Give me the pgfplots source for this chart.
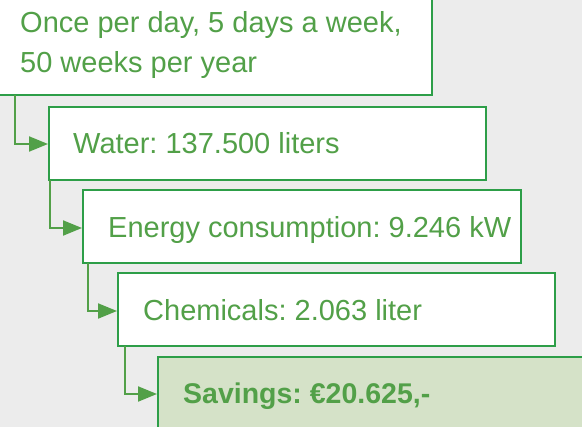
\documentclass[border=0pt]{standalone}
\usepackage{pgfplots}
\pgfplotsset{compat=1.18}
\usepackage{fontspec}
\setmainfont{Liberation Sans}
\usetikzlibrary{arrows.meta}
\frenchspacing
\definecolor{bordergreen}{RGB}{45,158,72}
\definecolor{txtgreen}{RGB}{82,160,72}
\definecolor{bg}{RGB}{236,236,236}
\definecolor{savefill}{RGB}{213,226,200}
\begin{document}
\begin{tikzpicture}
\begin{axis}[
  scale only axis, width=582bp, height=427bp,
  xmin=0, xmax=582, ymin=0, ymax=427, y dir=reverse,
  axis lines=none, clip=true,
  axis background/.style={fill=bg},
]
% boxes
\addplot[draw=bordergreen, line width=2bp, fill=white] coordinates {(-10,-10) (432,-10) (432,95) (-10,95)} --cycle;
\addplot[draw=bordergreen, line width=2bp, fill=white] coordinates {(49,107) (486,107) (486,180) (49,180)} --cycle;
\addplot[draw=bordergreen, line width=2bp, fill=white] coordinates {(83,190) (521,190) (521,263) (83,263)} --cycle;
\addplot[draw=bordergreen, line width=2bp, fill=white] coordinates {(118,273) (555,273) (555,346) (118,346)} --cycle;
\addplot[draw=bordergreen, line width=2bp, fill=savefill] coordinates {(158,357) (600,357) (600,440) (158,440)} --cycle;
% connectors
\addplot[draw=txtgreen, line width=2bp, -{Triangle[length=19bp,width=15bp]}] coordinates {(15,95) (15,144) (48,144)};
\addplot[draw=txtgreen, line width=2bp, -{Triangle[length=19bp,width=15bp]}] coordinates {(50,180) (50,228) (82,228)};
\addplot[draw=txtgreen, line width=2bp, -{Triangle[length=19bp,width=15bp]}] coordinates {(88,263) (88,311) (117,311)};
\addplot[draw=txtgreen, line width=2bp, -{Triangle[length=19bp,width=15bp]}] coordinates {(125,346) (125,394) (157,394)};
% texts
\begin{scope}[every node/.style={anchor=base west, text=txtgreen, inner sep=0pt, font=\fontsize{29bp}{34bp}\selectfont}]
\node at (axis cs:20,33) {Once per day, 5 days a week,};
\node at (axis cs:20,73) {50 weeks per year};
\node at (axis cs:73,153) {Water: 137.500 liters};
\node at (axis cs:108,237) {Energy consumption: 9.246 kW};
\node at (axis cs:143,320) {Chemicals: 2.063 liter};
\node[font=\fontsize{28.5bp}{34bp}\selectfont\bfseries] at (axis cs:183,403) {Savings: €20.625,-};
\end{scope}
\end{axis}
\end{tikzpicture}
\end{document}
